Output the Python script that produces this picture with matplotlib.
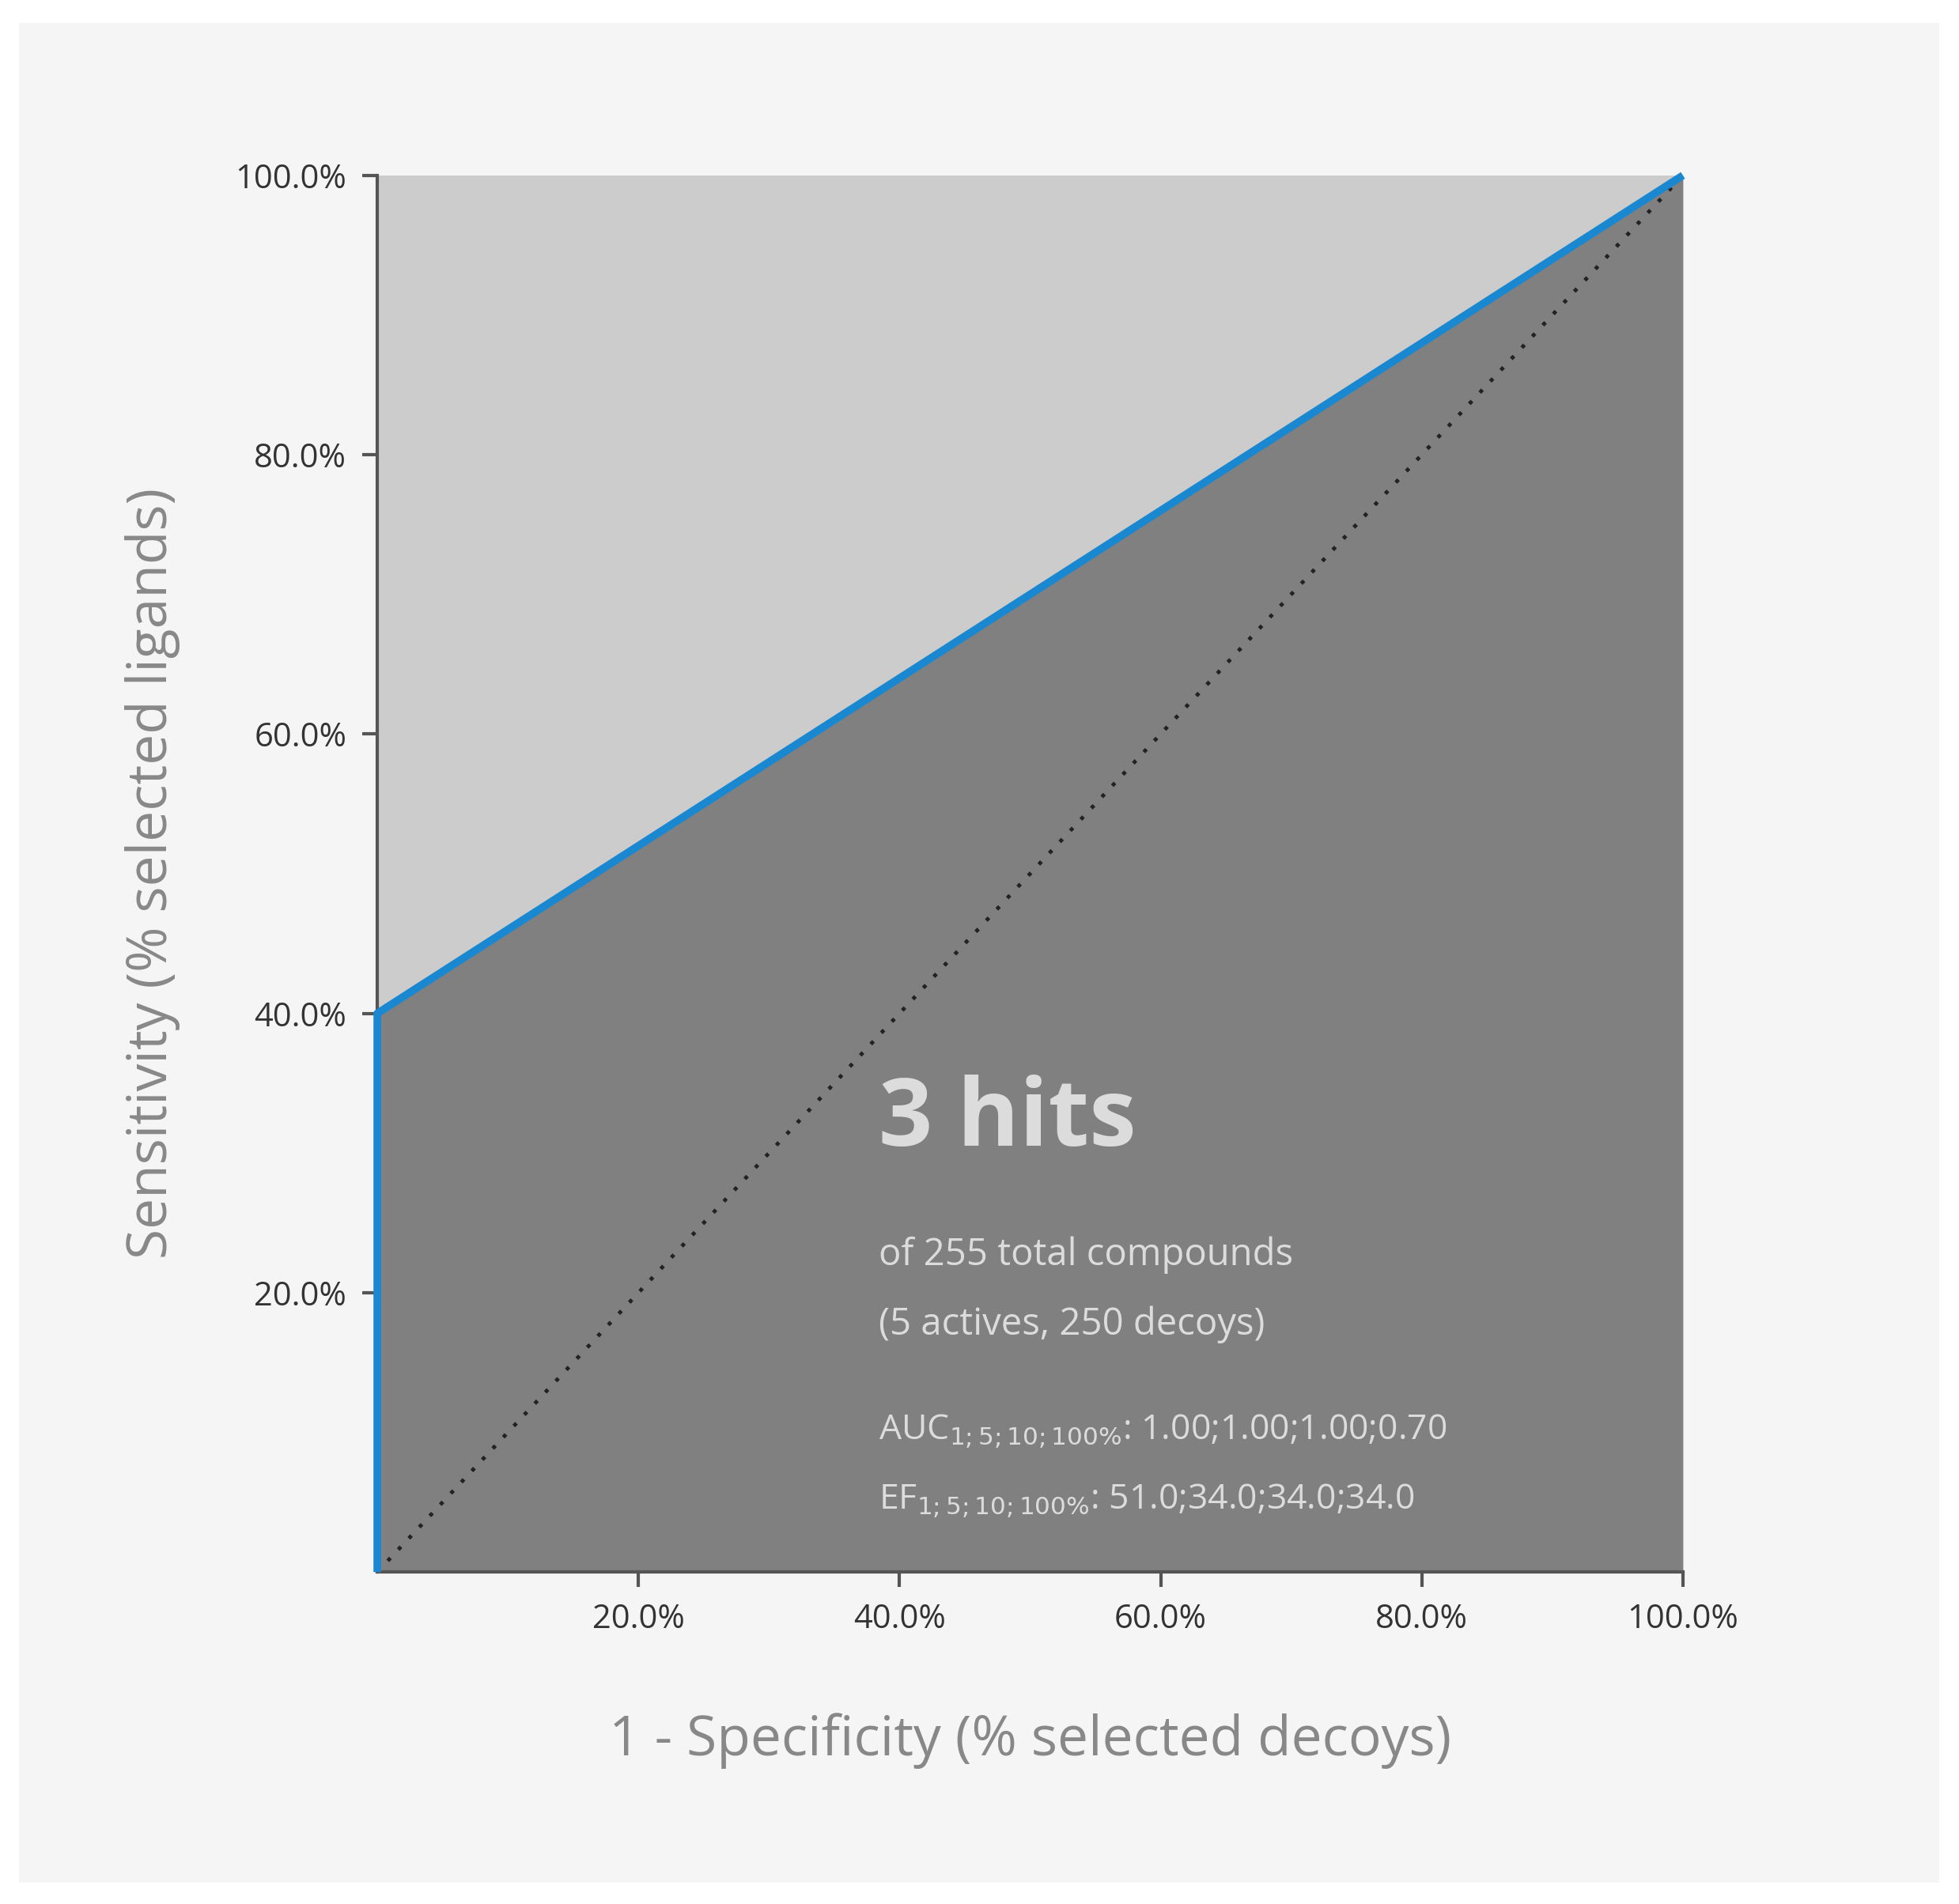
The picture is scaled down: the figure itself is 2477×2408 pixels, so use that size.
import matplotlib
matplotlib.use("Agg")
import matplotlib.pyplot as plt

roc_x = [0.0, 0.0, 1.0]
roc_y = [0.0, 0.4, 1.0]
ticks = [0.2, 0.4, 0.6, 0.8, 1.0]
tick_labels = ["20.0%", "40.0%", "60.0%", "80.0%", "100.0%"]

plt.rcParams['font.family'] = ['Open Sans', 'DejaVu Sans']
fig = plt.figure(figsize=(24.77, 24.08), dpi=100, facecolor='white')
bg = fig.add_axes([15/1568, 1-1503/1520, (1552-15)/1568, (1503-18)/1520], zorder=-5)
bg.set_facecolor('#f5f5f5'); bg.set_xticks([]); bg.set_yticks([])
for s in bg.spines.values():
    s.set_visible(False)
ax = fig.add_axes([302/1568, 1-1255/1520, (1347-302)/1568, (1255-140)/1520], zorder=1)
ax.set_xlim(0, 1); ax.set_ylim(0, 1)
ax.set_facecolor('#cccccc')
ax.fill_between(roc_x[1:], [0, 0], roc_y[1:], color='#808080', lw=0)
ax.plot([0, 1], [0, 1], ls=(0, (1, 3)), color='#222222', lw=3.5)
ax.plot(roc_x, roc_y, color='#1a88d0', lw=7, solid_capstyle='butt', clip_on=False, zorder=5)
for s in ['top', 'right']:
    ax.spines[s].set_visible(False)
for s in ['left', 'bottom']:
    ax.spines[s].set_color('#555555'); ax.spines[s].set_linewidth(3)
ax.set_xticks(ticks); ax.set_xticklabels(tick_labels)
ax.set_yticks(ticks); ax.set_yticklabels(tick_labels)
ax.tick_params(length=14, width=3, color='#555555', labelsize=30, labelcolor='#333333', pad=14)
ax.set_xlabel("1 - Specificity (% selected decoys)", fontsize=50, color='#888888', labelpad=70)
ax.set_ylabel("Sensitivity (% selected ligands)", fontsize=50, color='#888888', labelpad=50)
tc = '#dcdcdc'
ax.text(0.384, 0.305, "3 hits", fontsize=86, fontweight='bold', color=tc, transform=ax.transAxes)
ax.text(0.384, 0.22, "of 255 total compounds", fontsize=34, color=tc, transform=ax.transAxes)
ax.text(0.384, 0.17, "(5 actives, 250 decoys)", fontsize=34, color=tc, transform=ax.transAxes)
ax.text(0.384, 0.095, r"AUC$_{1;5;10;100\%}$: 1.00;1.00;1.00;0.70", fontsize=32, color=tc, transform=ax.transAxes)
ax.text(0.384, 0.045, r"EF$_{1;5;10;100\%}$: 51.0;34.0;34.0;34.0", fontsize=32, color=tc, transform=ax.transAxes)
fig.savefig("out.png", dpi=100, facecolor='white')
